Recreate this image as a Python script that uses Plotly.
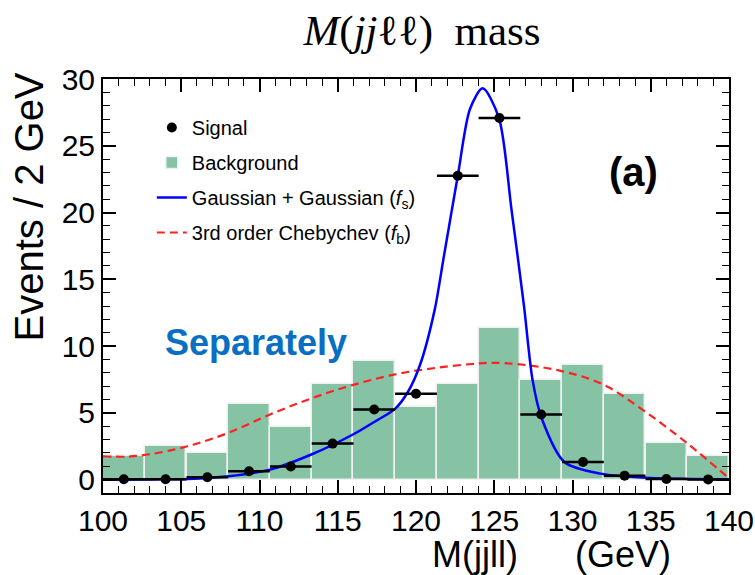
import plotly.graph_objects as go

# ---- data ----
bin_centers = [101.33, 104.0, 106.67, 109.33, 112.0, 114.67, 117.33, 120.0,
               122.67, 125.33, 128.0, 130.67, 133.33, 136.0, 138.67]
bin_width = 2.667
background = [1.75, 2.5, 2.0, 5.67, 3.97, 7.17, 8.88, 5.47,
              7.17, 11.35, 7.45, 8.62, 6.42, 2.75, 1.75]
signal = [0.03, 0.03, 0.18, 0.63, 0.98, 2.7, 5.25, 6.43,
          22.75, 27.08, 4.88, 1.32, 0.3, 0.05, 0.02]

gauss_x = [100, 103, 105.4, 108, 110.67, 113.35, 116, 117.3, 118.66, 119.5,
           120.26, 121.2, 121.75, 122.67, 123.45, 124.26, 125.3, 126.1,
           126.9, 127.45, 128.03, 129.5, 131.8, 135, 140]
gauss_y = [0.0, 0.02, 0.05, 0.25, 0.75, 1.9, 3.4, 4.3, 5.3, 6.6,
           8.6, 12.75, 16.5, 22.75, 27.75, 29.3, 27.08, 20.25,
           13.0, 7.45, 4.6, 1.3, 0.45, 0.12, 0.03]

cheb_x = [100, 101.5, 103, 105.4, 108, 110.67, 113.35, 116, 118.66, 121.33,
          123.97, 124.9, 126.65, 129.3, 131.95, 134.6, 137.3, 140]
cheb_y = [1.75, 1.72, 1.9, 2.5, 3.5, 4.88, 6.1, 7.1, 7.88, 8.38,
          8.7, 8.75, 8.63, 8.13, 7.13, 5.13, 2.75, 0.1]

x_ticks = [100, 105, 110, 115, 120, 125, 130, 135, 140]
y_ticks = [0, 5, 10, 15, 20, 25, 30]

fig = go.Figure()

fig.add_trace(go.Bar(
    x=bin_centers, y=background, width=bin_width,
    marker=dict(color="#85c3a4", line=dict(color="rgba(240,240,240,1)", width=1.5)),
    name="Background", legendrank=2, legendgroup="b",
))
fig.add_trace(go.Scatter(
    x=cheb_x, y=cheb_y, mode="lines", line_shape="spline",
    line=dict(color="#ff2020", width=2.2, dash="8px,5px"),
    name="3rd order Chebychev (<i>f</i><sub>b</sub>)", legendrank=4, legendgroup="d",
))
fig.add_trace(go.Scatter(
    x=gauss_x, y=gauss_y, mode="lines", line_shape="spline",
    line=dict(color="#0000ff", width=2.5, smoothing=0.8),
    name="Gaussian + Gaussian (<i>f</i><sub>s</sub>)", legendrank=3, legendgroup="c",
))
fig.add_trace(go.Scatter(
    x=bin_centers, y=signal, mode="markers",
    marker=dict(color="black", size=10),
    error_x=dict(type="constant", value=bin_width / 2, color="black", thickness=2.5, width=0),
    name="Signal", legendrank=1, legendgroup="a",
))

axis_common = dict(
    showline=True, linecolor="black", linewidth=2, mirror="allticks",
    ticks="inside", ticklen=13, tickwidth=1.5, tickcolor="black",
    showgrid=False, zeroline=False, automargin=False,
    tickfont=dict(family="Liberation Sans, Arial", size=30, color="black"),
)

fig.update_xaxes(range=[100, 140], tickvals=x_ticks,
                 minor=dict(ticks="inside", dtick=1, ticklen=7, tickwidth=1.2, tickcolor="black"),
                 **axis_common)
fig.update_yaxes(range=[-1, 30], tickvals=y_ticks,
                 minor=dict(ticks="inside", dtick=1, ticklen=7, tickwidth=1.2, tickcolor="black"),
                 **axis_common)

fig.add_annotation(x=-0.118, y=0.69, xref="paper", yref="paper", text="Events / 2 GeV",
                   textangle=-90, showarrow=False, xanchor="center", yanchor="middle",
                   font=dict(family="Liberation Sans, Arial", size=40, color="black"))
fig.add_annotation(x=0.595, y=-0.148, xref="paper", yref="paper", text="M(jjll)",
                   showarrow=False, yanchor="middle",
                   font=dict(family="Liberation Sans, Arial", size=36, color="black"))
fig.add_annotation(x=0.91, y=-0.148, xref="paper", yref="paper", text="(GeV)",
                   showarrow=False, yanchor="middle",
                   font=dict(family="Liberation Sans, Arial", size=36, color="black"))
fig.add_annotation(x=133.9, y=23.0, text="<b>(a)</b>", showarrow=False,
                   font=dict(family="Liberation Sans, Arial", size=40, color="black"))
fig.add_annotation(x=109.8, y=10.3, text="<b>Separately</b>", showarrow=False,
                   font=dict(family="Liberation Sans, Arial", size=36, color="#0a6fc2"))

fig.update_layout(
    width=755, height=575,
    margin=dict(l=103, r=26, t=79, b=82, autoexpand=False),
    paper_bgcolor="white", plot_bgcolor="white",
    title=dict(text="<i>M</i>(<i>jj</i>ℓℓ)\u00a0\u00a0mass", x=0.559, xanchor="center", y=0.948, yanchor="middle",
               font=dict(family="Liberation Serif, DejaVu Serif", size=43, color="black")),
    showlegend=True,
    legend=dict(x=0.078, y=0.93, xanchor="left", yanchor="top",
                bgcolor="rgba(0,0,0,0)", tracegroupgap=6,
                font=dict(family="Liberation Sans, Arial", size=20, color="black")),
    bargap=0,
)

fig.write_html("out.html")
